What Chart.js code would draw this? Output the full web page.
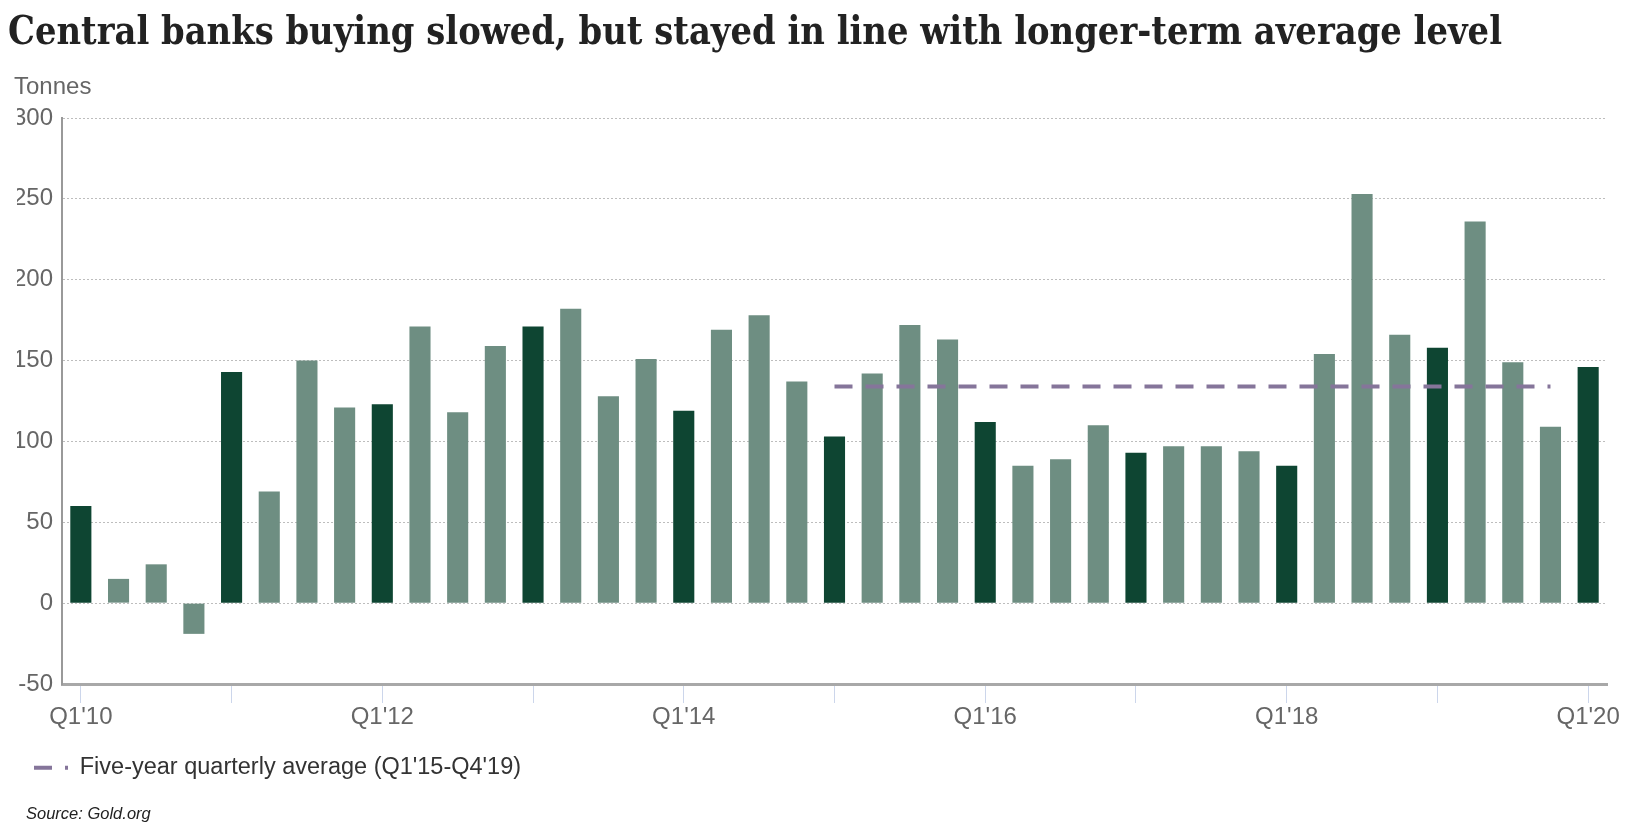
<!DOCTYPE html>
<html>
<head>
<meta charset="utf-8">
<script src="https://cdn.jsdelivr.net/npm/chart.js@4.4.1/dist/chart.umd.min.js"></script>
<style>
  html, body { margin:0; padding:0; background:#fff; width:1632px; height:838px; overflow:hidden; }
  #wrap { position:absolute; left:0; top:0; width:1632px; height:838px; }
  #title { position:absolute; left:8px; top:10px; font-family:'DejaVu Serif', serif; font-weight:bold; font-size:40px; line-height:40px; color:#222; white-space:nowrap; transform-origin:0 50%; }
  #unit { position:absolute; left:14px; top:74px; font-family:'Liberation Sans', Arial, sans-serif; font-size:24px; line-height:24px; color:#666; }
  #source { position:absolute; left:26px; top:805px; font-family:'Liberation Sans', Arial, sans-serif; font-style:italic; font-size:16.5px; line-height:16.5px; color:#222; }
</style>
</head>
<body>
<div id="wrap"><canvas id="c"></canvas></div>
<div id="title">Central banks buying slowed, but stayed in line with longer-term average level</div>
<div id="unit">Tonnes</div>
<div id="source">Source: Gold.org</div>
<script>
// ---- data ----
const categories = [
  "Q1'10","Q2'10","Q3'10","Q4'10",
  "Q1'11","Q2'11","Q3'11","Q4'11",
  "Q1'12","Q2'12","Q3'12","Q4'12",
  "Q1'13","Q2'13","Q3'13","Q4'13",
  "Q1'14","Q2'14","Q3'14","Q4'14",
  "Q1'15","Q2'15","Q3'15","Q4'15",
  "Q1'16","Q2'16","Q3'16","Q4'16",
  "Q1'17","Q2'17","Q3'17","Q4'17",
  "Q1'18","Q2'18","Q3'18","Q4'18",
  "Q1'19","Q2'19","Q3'19","Q4'19",
  "Q1'20"
];
const purchases = [
  60, 15, 24, -19,
  143, 69, 150, 121,
  123, 171, 118, 159,
  171, 182, 128, 151,
  119, 169, 178, 137,
  103, 142, 172, 163,
  112, 85, 89, 110,
  93, 97, 97, 94,
  85, 154, 253, 166,
  158, 236, 149, 109,
  146
];
const averageLabel = "Five-year quarterly average (Q1'15-Q4'19)";
const averageValue = 134;
const averageFrom = "Q1'15";
const averageTo = "Q4'19";
const yTicks = [-50, 0, 50, 100, 150, 200, 250, 300];

// ---- title fit ----
(function(){
  const t = document.getElementById('title');
  const w = t.getBoundingClientRect().width;
  t.style.transform = 'scaleX(' + (1494 / w) + ')';
})();

const iFrom = categories.indexOf(averageFrom);
const iTo = categories.indexOf(averageTo);
const averageData = categories.map((c, i) => (i >= iFrom && i <= iTo) ? averageValue : null);

const DARK = '#0e4532';
const LIGHT = '#6e8e82';
const AVG_COLOR = '#85759a';
const AVG_DASH = [18, 13];

Chart.defaults.font.family = "'Liberation Sans', Arial, sans-serif";

new Chart(document.getElementById('c'), {
  type: 'bar',
  data: {
    labels: categories,
    datasets: [
      {
        type: 'line',
        label: averageLabel,
        data: averageData,
        borderColor: AVG_COLOR,
        backgroundColor: AVG_COLOR,
        borderWidth: 4,
        borderDash: AVG_DASH,
        pointRadius: 0,
        pointHoverRadius: 0,
        fill: false,
        spanGaps: false,
        order: 0
      },
      {
        type: 'bar',
        label: 'Central bank purchases',
        data: purchases,
        backgroundColor: categories.map(c => c.startsWith('Q1') ? DARK : LIGHT),
        barPercentage: 0.56,
        categoryPercentage: 1.0,
        order: 1
      }
    ]
  },
  options: {
    responsive: true,
    maintainAspectRatio: false,
    animation: false,
    layout: { padding: { left: 17, right: 25, top: 118, bottom: 48.5 } },
    plugins: {
      title: { display: false },
      tooltip: { enabled: false },
      legend: {
        display: true,
        position: 'bottom',
        align: 'start',
        labels: {
          usePointStyle: true,
          pointStyleWidth: 34,
          padding: 17,
          color: '#333',
          font: { size: 23.5 },
          generateLabels: chart => {
            const ds = chart.data.datasets[0];
            return [{
              text: ds.label,
              datasetIndex: 0,
              fillStyle: AVG_COLOR,
              strokeStyle: AVG_COLOR,
              lineWidth: 4,
              lineDash: AVG_DASH,
              lineCap: 'butt',
              pointStyle: 'line',
              fontColor: '#333',
              hidden: false
            }];
          }
        }
      }
    },
    scales: {
      x: {
        offset: true,
        afterFit: s => { s.height = 55; },
        border: { display: true, color: '#a8a8a8', width: 3 },
        grid: {
          offset: false,
          drawOnChartArea: false,
          drawTicks: true,
          tickLength: 19,
          lineWidth: 1,
          color: ctx => (ctx.index % 4 === 0) ? '#ccd6eb' : 'rgba(0,0,0,0)'
        },
        ticks: {
          autoSkip: false,
          maxRotation: 0,
          padding: 0,
          color: '#666',
          font: { size: 24 },
          callback: function(v, i) { return i % 8 === 0 ? this.getLabelForValue(v) : ''; }
        }
      },
      y: {
        min: yTicks[0],
        max: yTicks[yTicks.length - 1],
        afterFit: s => { s.width = 45; },
        afterBuildTicks: s => { s.ticks = yTicks.map(v => ({ value: v })); },
        border: { display: true, color: '#999', width: 2, dash: [2, 2] },
        grid: {
          drawTicks: false,
          lineWidth: 1,
          color: ctx => (ctx.tick && ctx.tick.value === yTicks[0]) ? 'rgba(0,0,0,0)' : '#bdbdbd'
        },
        ticks: {
          padding: 9,
          color: '#666',
          font: { size: 24 }
        }
      }
    }
  }
});
</script>
</body>
</html>
